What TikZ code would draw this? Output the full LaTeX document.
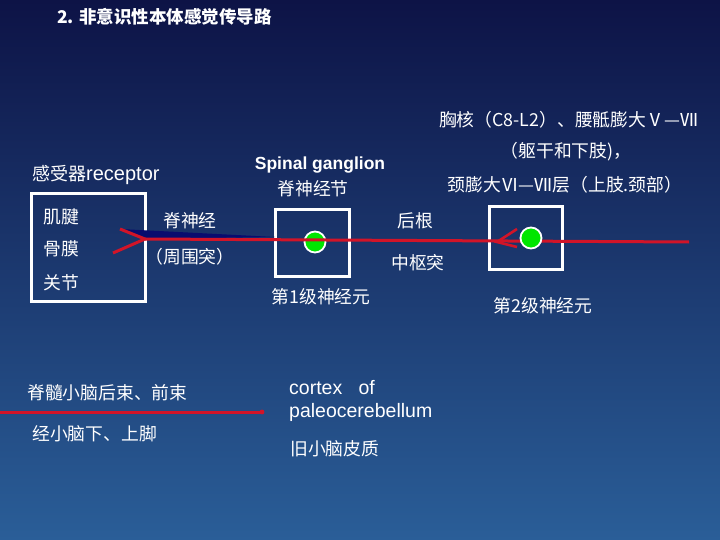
\documentclass[tikz,border=0pt]{standalone}
\usepackage{fontspec}
\setmainfont{Liberation Sans}
\newfontfamily\cjk{Noto Sans CJK SC}
\definecolor{bgtop}{RGB}{13,19,70}
\definecolor{bgbot}{RGB}{42,94,152}
\definecolor{nred}{RGB}{210,20,40}
\definecolor{ngreen}{RGB}{0,230,0}
\definecolor{wedge}{RGB}{10,12,110}
\tikzset{
  lbl/.style={text=white, inner sep=0pt, font=\cjk\fontsize{17.8}{21}\selectfont},
  elbl/.style={text=white, inner sep=0pt, font=\fontsize{19.5}{23}\selectfont, align=left},
  box/.style={draw=white, line width=3pt},
  cell/.style={circle, fill=ngreen, draw=white, line width=1.8pt, minimum size=21pt, inner sep=0pt},
  fiber/.style={draw=nred, line width=3pt},
}
\begin{document}
\begin{tikzpicture}[x=1pt,y=-1pt]
\useasboundingbox (0,0) rectangle (720,540);
\shade[top color=bgtop, bottom color=bgbot] (0,0) rectangle (720,540);

% title
\node[anchor=west, text=white, inner sep=0pt, font=\cjk\bfseries\fontsize{17.5}{21}\selectfont] (title) at (57,17) {2. 非意识性本体感觉传导路};

% receptor box
\node[box, minimum width=114pt, minimum height=108pt, anchor=north west] (rbox) at (30,192) {};
\node[anchor=west, inner sep=0pt, text=white] (rlab) at (32,175) {{\cjk\fontsize{18}{21}\selectfont 感受器}{\fontsize{20}{23}\selectfont receptor}};
\node[lbl, anchor=west] (r1) at (43,217) {肌腱};
\node[lbl, anchor=west] (r2) at (43,249) {骨膜};
\node[lbl, anchor=west] (r3) at (43,283) {关节};

% ganglion box
\node[box, minimum width=74pt, minimum height=66pt] (g1) at (312,243) {};
\node[cell] (c1) at (315,242) {};
\node[text=white, inner sep=0pt, font=\bfseries\fontsize{17.5}{21}\selectfont] (sg) at (320,165) {Spinal ganglion};
\node[lbl] (sgc) at (313,189) {脊神经节};
\node[lbl] (n1) at (321,297) {第1级神经元};

% second box
\node[box, minimum width=73pt, minimum height=62pt] (g2) at (525.5,238) {};
\node[lbl] (n2) at (543,306) {第2级神经元};

% fibers
\coordinate (tip) at (145,239);
\coordinate (f1) at (120,229);
\coordinate (f2) at (113,253);
\coordinate (wend) at (275,237);
\coordinate (end2) at (689,242);
\fill[wedge] (f1) -- (wend) -- (tip) -- cycle;
\draw[fiber] (f1) -- (tip) -- (f2);
\draw[fiber] (tip) -- (end2);
\coordinate (a2tip) at (497,242);
\draw[fiber, line width=2.6pt] (517,229) -- (a2tip) -- (517,247);
\node[cell] (c2) at (531,238) {};

\node[lbl] (sn) at (190,221) {脊神经};
\node[lbl] (zwt) at (190,257) {（周围突）};
\node[lbl] (hg) at (415,221) {后根};
\node[lbl] (zst) at (418,263) {中枢突};

% right nuclei text
\node[lbl, anchor=east] (t1) at (698,120) {胸核（C8-L2）、腰骶膨大Ⅴ—Ⅶ};
\node[lbl] (t2) at (566,152) {（躯干和下肢)，};
\node[lbl] (t3) at (565,185) {颈膨大Ⅵ—Ⅶ层（上肢.颈部）};

% bottom
\coordinate (b0) at (0,412);
\coordinate (b1) at (262,412);
\draw[fiber] (b0) -- (b1);
\fill[nred] (b1) circle (2.4pt);
\node[lbl, anchor=west] (tr1) at (27,393) {脊髓小脑后束、前束};
\node[lbl, anchor=west] (tr2) at (32,434) {经小脑下、上脚};
\node[elbl, anchor=west] (cx1) at (289,388) {cortex\ \ \ of};
\node[elbl, anchor=west] (cx2) at (289,412) {paleocerebellum};
\node[lbl, anchor=west] (cx3) at (290,449) {旧小脑皮质};
\end{tikzpicture}
\end{document}
